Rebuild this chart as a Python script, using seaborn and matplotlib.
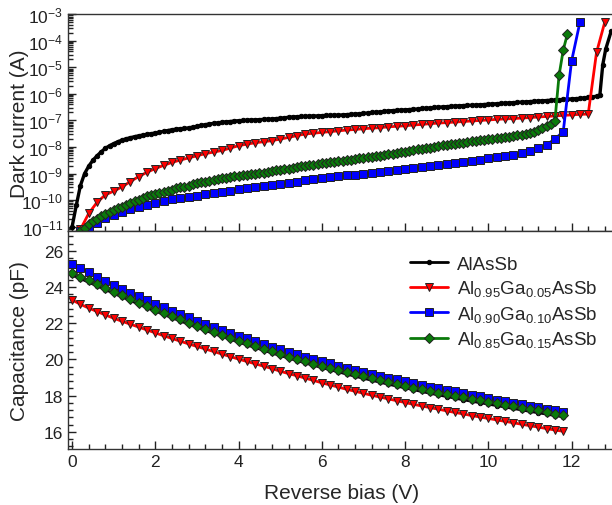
import numpy as np
import seaborn as sns
import matplotlib
matplotlib.use("Agg")
import matplotlib.pyplot as plt
from matplotlib.ticker import MultipleLocator, LogLocator, NullFormatter

# ---------------- data ----------------
labels = ["AlAsSb", r"Al$_{0.95}$Ga$_{0.05}$AsSb",
          r"Al$_{0.90}$Ga$_{0.10}$AsSb", r"Al$_{0.85}$Ga$_{0.15}$AsSb"]
colors = ["black", "#ff0000", "#0000ff", "#0a7a0a"]

# dark current, log10(I / A)
v_black = list(np.round(np.arange(0, 12.65, 0.1), 2)) + [12.68, 12.75, 12.82, 12.95]
logi_black = [
    -11.00, -10.20, -9.45, -9.00, -8.72, -8.50, -8.33, -8.18, -8.05, -7.95,
    -7.87, -7.80, -7.74, -7.69, -7.65, -7.61, -7.58, -7.55, -7.52, -7.50,
    -7.47, -7.44, -7.41, -7.38, -7.35, -7.33, -7.31, -7.30, -7.28, -7.25,
    -7.22, -7.19, -7.16, -7.13, -7.11, -7.09, -7.07, -7.05, -7.04, -7.02,
    -7.01, -7.00, -6.99, -6.98, -6.98, -6.97, -6.96, -6.95, -6.95, -6.93,
    -6.92, -6.90, -6.88, -6.87, -6.86, -6.85, -6.85, -6.84, -6.83, -6.83,
    -6.82, -6.81, -6.81, -6.80, -6.80, -6.79, -6.78, -6.77, -6.76, -6.75,
    -6.73, -6.72, -6.70, -6.69, -6.68, -6.66, -6.64, -6.63, -6.62, -6.61,
    -6.60, -6.59, -6.58, -6.57, -6.55, -6.54, -6.53, -6.51, -6.50, -6.49,
    -6.48, -6.47, -6.46, -6.45, -6.44, -6.43, -6.43, -6.42, -6.41, -6.40,
    -6.39, -6.38, -6.37, -6.36, -6.35, -6.34, -6.33, -6.32, -6.31, -6.30,
    -6.29, -6.28, -6.27, -6.26, -6.25, -6.24, -6.23, -6.22, -6.21, -6.20,
    -6.19, -6.18, -6.17, -6.15, -6.13, -6.11, -6.09,
    -6.05, -4.90, -4.32, -3.65]

v_red = list(np.round(np.arange(0.2, 12.45, 0.2), 2)) + [12.6, 12.8]
logi_red = [
    -11.10, -10.50, -10.08, -9.80, -9.66, -9.50, -9.30, -9.11, -8.95, -8.81,
    -8.69, -8.58, -8.49, -8.41, -8.33, -8.25, -8.19, -8.13, -8.04, -7.95,
    -7.89, -7.84, -7.80, -7.76, -7.70, -7.64, -7.57, -7.51, -7.48, -7.45,
    -7.42, -7.39, -7.36, -7.34, -7.31, -7.29, -7.27, -7.24, -7.22, -7.20,
    -7.17, -7.15, -7.12, -7.10, -7.08, -7.06, -7.04, -7.02, -7.00, -6.98,
    -6.96, -6.94, -6.93, -6.91, -6.89, -6.87, -6.85, -6.83, -6.81, -6.79,
    -6.77, -6.76,
    -4.44, -3.29]

v_blue = list(np.round(np.arange(0.2, 11.85, 0.2), 2)) + [12.0, 12.2]
logi_blue = [
    -11.15, -11.05, -10.87, -10.68, -10.56, -10.44, -10.33, -10.24, -10.17, -10.09,
    -10.02, -9.97, -9.92, -9.87, -9.83, -9.78, -9.74, -9.69, -9.64, -9.59,
    -9.55, -9.52, -9.48, -9.44, -9.39, -9.36, -9.33, -9.26, -9.21, -9.17,
    -9.13, -9.10, -9.07, -9.04, -9.01, -8.98, -8.94, -8.89, -8.86, -8.83,
    -8.80, -8.76, -8.73, -8.69, -8.65, -8.61, -8.57, -8.52, -8.47, -8.43,
    -8.39, -8.35, -8.30, -8.24, -8.16, -8.05, -7.91, -7.70, -7.42,
    -4.77, -3.31]

v_green = list(np.round(np.arange(0.2, 11.65, 0.1), 2)) + [11.7, 11.8, 11.9]
logi_green = [
    -11.15, -11.03, -10.91, -10.80, -10.70, -10.61, -10.52, -10.45, -10.38, -10.31,
    -10.24, -10.17, -10.10, -10.04, -9.98, -9.92, -9.86, -9.81, -9.76, -9.72,
    -9.68, -9.64, -9.60, -9.56, -9.52, -9.49, -9.45, -9.41, -9.37, -9.33,
    -9.30, -9.27, -9.24, -9.21, -9.18, -9.15, -9.13, -9.10, -9.08, -9.06,
    -9.04, -9.02, -9.00, -8.98, -8.96, -8.93, -8.91, -8.88, -8.86, -8.83,
    -8.81, -8.78, -8.76, -8.73, -8.71, -8.69, -8.67, -8.64, -8.62, -8.60,
    -8.58, -8.55, -8.53, -8.51, -8.49, -8.47, -8.45, -8.43, -8.41, -8.39,
    -8.37, -8.35, -8.32, -8.30, -8.27, -8.25, -8.22, -8.20, -8.17, -8.14,
    -8.12, -8.09, -8.07, -8.04, -8.02, -7.99, -7.97, -7.94, -7.92, -7.90,
    -7.88, -7.85, -7.83, -7.81, -7.79, -7.77, -7.75, -7.73, -7.71, -7.69,
    -7.67, -7.65, -7.63, -7.61, -7.59, -7.56, -7.53, -7.50, -7.47, -7.42,
    -7.37, -7.30, -7.22, -7.13, -7.01,
    -5.30, -4.35, -3.75]

# capacitance (pF), 0 to 11.8 V in 0.2 V steps
v_cap = np.round(np.arange(0, 11.85, 0.2), 2)
cap_black = [
    24.66, 24.47, 24.27, 24.07, 23.86, 23.66, 23.46, 23.26, 23.06, 22.87,
    22.68, 22.49, 22.31, 22.13, 21.95, 21.78, 21.61, 21.44, 21.28, 21.12,
    20.96, 20.81, 20.66, 20.51, 20.36, 20.22, 20.08, 19.94, 19.81, 19.68,
    19.55, 19.43, 19.31, 19.19, 19.07, 18.96, 18.85, 18.74, 18.63, 18.53,
    18.43, 18.33, 18.23, 18.13, 18.04, 17.95, 17.86, 17.77, 17.69, 17.61,
    17.53, 17.45, 17.37, 17.29, 17.21, 17.13, 17.05, 16.98, 16.90, 16.83]
cap_red = [
    23.29, 23.05, 22.84, 22.65, 22.46, 22.28, 22.11, 21.95, 21.79, 21.63,
    21.47, 21.31, 21.16, 21.01, 20.86, 20.72, 20.58, 20.44, 20.30, 20.16,
    20.02, 19.89, 19.76, 19.63, 19.50, 19.35, 19.22, 19.10, 18.97, 18.84,
    18.71, 18.59, 18.47, 18.35, 18.24, 18.13, 18.02, 17.92, 17.82, 17.72,
    17.62, 17.52, 17.43, 17.34, 17.25, 17.16, 17.07, 16.99, 16.90, 16.82,
    16.74, 16.66, 16.58, 16.50, 16.42, 16.34, 16.26, 16.18, 16.10, 16.03]
cap_blue = [
    25.30, 25.05, 24.81, 24.57, 24.35, 24.13, 23.91, 23.70, 23.49, 23.29,
    23.09, 22.89, 22.70, 22.51, 22.33, 22.15, 21.97, 21.80, 21.63, 21.47,
    21.31, 21.16, 21.01, 20.86, 20.71, 20.57, 20.43, 20.29, 20.16, 20.03,
    19.90, 19.78, 19.66, 19.54, 19.43, 19.32, 19.21, 19.10, 19.00, 18.90,
    18.80, 18.70, 18.60, 18.50, 18.41, 18.32, 18.23, 18.14, 18.05, 17.96,
    17.87, 17.78, 17.69, 17.60, 17.52, 17.44, 17.36, 17.28, 17.19, 17.11]
cap_green = [
    24.77, 24.57, 24.37, 24.16, 23.95, 23.74, 23.54, 23.34, 23.14, 22.95,
    22.76, 22.57, 22.39, 22.21, 22.03, 21.86, 21.69, 21.52, 21.36, 21.20,
    21.04, 20.89, 20.74, 20.59, 20.44, 20.30, 20.16, 20.02, 19.89, 19.76,
    19.63, 19.51, 19.39, 19.28, 19.17, 19.06, 18.95, 18.85, 18.75, 18.65,
    18.55, 18.45, 18.35, 18.26, 18.17, 18.08, 17.99, 17.90, 17.82, 17.74,
    17.66, 17.58, 17.50, 17.42, 17.34, 17.26, 17.18, 17.10, 17.01, 16.93]

# ---------------- style ----------------
sns.set_style("ticks")
plt.rcParams["font.family"] = ["Liberation Sans", "DejaVu Sans"]
plt.rcParams["mathtext.fontset"] = "custom"
plt.rcParams["mathtext.rm"] = "Liberation Sans"
plt.rcParams["mathtext.it"] = "Liberation Sans"
plt.rcParams["mathtext.default"] = "regular"

fig = plt.figure(figsize=(6.12, 5.06), dpi=100)
ax1 = fig.add_axes([0.111, 0.5415, 0.895, 0.4285])
ax2 = fig.add_axes([0.111, 0.111, 0.895, 0.4305], sharex=ax1)

markers = ["o", "v", "s", "D"]
msizes = [3.2, 5.8, 5.2, 5.0]
edge = "#222222"

iv = [(v_black, logi_black), (v_red, logi_red), (v_blue, logi_blue), (v_green, logi_green)]
for (v, li), c, m, ms in zip(iv, colors, markers, msizes):
    sns.lineplot(x=v, y=10.0 ** np.array(li), ax=ax1, color=c, marker=m,
                 markersize=ms, markeredgecolor=edge if m != "o" else "black",
                 markeredgewidth=0.7, lw=2.4 if m == "o" else 2.0, legend=False)

cv = [cap_black, cap_red, cap_blue, cap_green]
for cap, c, m, ms, lab in zip(cv, colors, markers, msizes, labels):
    sns.lineplot(x=v_cap, y=cap, ax=ax2, color=c, marker=m, markersize=ms,
                 markeredgecolor=edge if m != "o" else "black",
                 markeredgewidth=0.7, lw=2.0, label=lab)

# ---------------- axes ----------------
ax1.set_yscale("log")
ax1.set_ylim(6.9e-12, 1e-3)
ax1.yaxis.set_major_locator(LogLocator(base=10, numticks=20))
ax1.yaxis.set_minor_locator(LogLocator(base=10, subs=np.arange(2, 10), numticks=20))
ax1.yaxis.set_minor_formatter(NullFormatter())
ax1.set_ylabel("Dark current (A)", fontsize=15)
ax1.yaxis.set_label_coords(-0.071, 0.5)
plt.setp(ax1.get_xticklabels(), visible=False)

ax2.set_xlim(-0.1, 13.06)
ax2.set_ylim(15.06, 27.1)
ax2.xaxis.set_major_locator(MultipleLocator(2))
ax2.xaxis.set_minor_locator(MultipleLocator(0.4))
ax2.yaxis.set_major_locator(MultipleLocator(2))
ax2.yaxis.set_minor_locator(MultipleLocator(0.4))
ax2.set_ylabel("Capacitance (pF)", fontsize=15)
ax2.yaxis.set_label_coords(-0.071, 0.5)
ax2.set_xlabel("Reverse bias (V)", fontsize=15, labelpad=10)

for ax in (ax1, ax2):
    ax.spines["right"].set_visible(False)
    for s in ax.spines.values():
        s.set_linewidth(1.0)
        s.set_color("#333333")
    ax.tick_params(which="both", direction="in", top=False, right=False,
                   labelsize=12.5, colors="#222222", width=1.0)
    ax.tick_params(which="major", length=6)
    ax.tick_params(which="minor", length=3.5)

leg = ax2.legend(loc="upper left", bbox_to_anchor=(0.658, 0.508),
                 bbox_transform=fig.transFigure, frameon=False, fontsize=13.5,
                 handlelength=2.0, handletextpad=0.5, labelspacing=0.3,
                 borderaxespad=0)

fig.savefig("out.png", dpi=100)
